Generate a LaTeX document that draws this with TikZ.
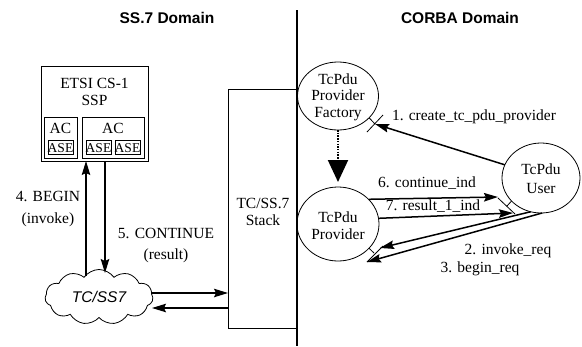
\documentclass[tikz,border=0pt]{standalone}
\usepackage{fontspec}
\setmainfont{Liberation Serif}
\newfontfamily\arialfont{Liberation Sans}
\usetikzlibrary{arrows.meta,shapes.geometric,shapes.symbols}

\begin{document}
\begin{tikzpicture}[x=1pt,y=-1pt,
  every node/.style={font=\fontsize{15.5}{17}\selectfont, inner sep=0pt, outer sep=0pt},
  box/.style={draw, line width=0.8pt},
  bubble/.style={draw, ellipse, line width=0.8pt},
  msg/.style={line width=1.5pt, -{Stealth[length=14pt,width=8.5pt,inset=2pt]}},
  iface/.style={line width=0.8pt},
  title/.style={font=\arialfont\bfseries\fontsize{15.5}{17}\selectfont},
  lbl/.style={anchor=base},
  twoline/.style={align=center, font=\fontsize{15.5}{21.5}\selectfont}
]
\useasboundingbox (0,0) rectangle (582,346);

% domain titles and the boundary between them
\node[title] (ss7title) at (167,18) {SS.7 Domain};
\node[title] (corbatitle) at (460,18) {CORBA Domain};
\coordinate (divtop) at (297,10);
\coordinate (divbot) at (297,346);
\draw[line width=1.3pt] (divtop) -- (divbot);

% ---------------- SS.7 side ----------------
\node[box, minimum width=107pt, minimum height=95pt] (etsi) at (94.5,113.5) {};
\node[align=center] (etsilabel) at (94.5,91.5) {ETSI CS-1\\SSP};
\node[box, minimum width=33pt, minimum height=41pt] (acA) at (60.5,137.5) {};
\node[box, minimum width=62pt, minimum height=41pt] (acB) at (113,137.5) {};
\node[lbl] (acAlabel) at (60.5,133) {AC};
\node[lbl] (acBlabel) at (113,133) {AC};
\tikzset{asebox/.style={box, minimum width=25pt, minimum height=14pt}}
\node[asebox] (aseA) at (60.5,147) {};
\node[asebox] (aseB) at (98.5,147) {};
\node[asebox] (aseC) at (127.5,147) {};
\foreach \n in {aseA,aseB,aseC}
  \node[font=\fontsize{13.5}{13.5}\selectfont, anchor=base] at ([yshift=1.8pt]\n.south) {ASE};

\node[box, minimum width=68pt, minimum height=239pt] (stack) at (262,208.5) {};
\node[align=center] (stacklabel) at (263,211.5) {TC/SS.7\\Stack};

\node[cloud, draw, cloud puffs=11, cloud puff arc=110, aspect=2,
      minimum width=108pt, minimum height=55pt, line width=0.8pt,
      font=\arialfont\itshape\fontsize{15.5}{17}\selectfont] (tcss7) at (99,297) {TC/SS7};

% TCAP messages between the SSP and the network
\coordinate (beginfoot) at (86,276);
\coordinate (conttip) at (105,273);
\draw[msg] (beginfoot) -- (etsi.south -| beginfoot);
\draw[msg] (etsi.south -| conttip) -- (conttip);
\node[twoline] (beginlabel) at (48,209) {4. BEGIN\\(invoke)};
\node[twoline] (contlabel) at (166,245.5) {5. CONTINUE\\(result)};

% network <-> stack
\coordinate (cloudout) at (152,293);
\coordinate (cloudin) at (152,308);
\draw[msg] (cloudout) -- (stack.west |- cloudout);
\draw[msg] (stack.west |- cloudin) -- (cloudin);

% ---------------- CORBA side ----------------
\node[bubble, minimum width=81pt, minimum height=68pt] (factory) at (338,96) {};
\node[align=center, font=\fontsize{15.5}{16.5}\selectfont] (factorylabel) at (338,97) {TcPdu\\Provider\\Factory};
\node[bubble, minimum width=82pt, minimum height=74pt] (provider) at (338,224) {};
\node[align=center] (providerlabel) at (338,226) {TcPdu\\Provider};
\node[bubble, minimum width=78pt, minimum height=70pt] (user) at (541,178) {};
\node[align=center, font=\fontsize{15.5}{19}\selectfont] (userlabel) at (541,178.5) {TcPdu\\User};

% factory creates the provider
\draw[line width=2pt, dash pattern=on 1.5pt off 1.2pt, shorten >=5pt,
      -{Triangle[length=22pt,width=20pt]}] (factory.south) -- (provider.north);

% interface stubs
\coordinate (fstub) at (375,124);
\coordinate (fbarA) at (367,132);
\coordinate (fbarB) at (383,115);
\draw[iface] (factory.-35) -- (fstub);
\draw[iface] (fbarA) -- (fbarB);

\coordinate (ustub) at (507,206);
\coordinate (ubarA) at (498,198);
\coordinate (ubarB) at (515,214);
\draw[iface] (user.218) -- (ustub);
\draw[iface] (ubarA) -- (ubarB);

\coordinate (pstub) at (374,253);
\coordinate (pbarA) at (367,262);
\coordinate (pbarB) at (383,246);
\draw[iface] (provider.-38) -- (pstub);
\draw[iface] (pbarA) -- (pbarB);

% operations
\draw[msg] (user.160) -- (fstub);
\node[lbl, anchor=base west] (op1) at (392,120) {1. create\_tc\_pdu\_provider};

\coordinate (ind6) at (498,197);
\coordinate (ind7) at (513,213);
\draw[msg] (provider.39) -- (ind6);
\draw[msg] (provider.8) -- (ind7);
\node[lbl] (op6) at (427,187) {6. continue\_ind};
\node[lbl] (op7) at (433,210) {7. result\_1\_ind};

\coordinate (req2) at (380,248);
\coordinate (req3) at (367,262);
\draw[msg] (user.253) -- (req2);
\draw[msg] (user.272) -- (req3);
\node[lbl] (op2) at (508,254) {2. invoke\_req};
\node[lbl] (op3) at (480,272) {3. begin\_req};
\end{tikzpicture}
\end{document}
